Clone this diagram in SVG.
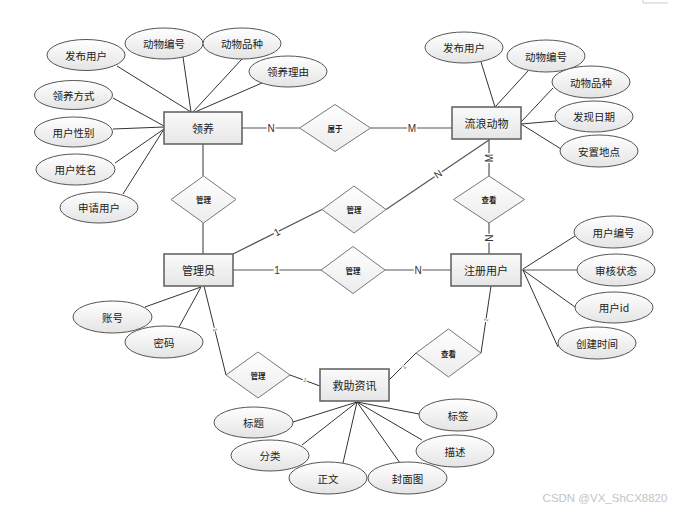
<svg xmlns="http://www.w3.org/2000/svg" width="678" height="512" viewBox="0 0 678 512">
<defs>
<linearGradient id="gE" x1="0" y1="0" x2="0" y2="1"><stop offset="0" stop-color="#ffffff"/><stop offset="1" stop-color="#e4e4e4"/></linearGradient>
<linearGradient id="gR" x1="0" y1="0" x2="0" y2="1"><stop offset="0" stop-color="#fafafa"/><stop offset="1" stop-color="#e6e6e6"/></linearGradient>
<linearGradient id="gD" x1="0" y1="0" x2="0" y2="1"><stop offset="0" stop-color="#ffffff"/><stop offset="1" stop-color="#ececec"/></linearGradient>
</defs>
<style>
text{font-family:"Noto Sans CJK SC","Liberation Sans",sans-serif;fill:#222;text-anchor:middle;dominant-baseline:central}
.e ellipse{fill:url(#gE);stroke:#555;stroke-width:1}
.r rect{fill:url(#gR);stroke:#666;stroke-width:1.6}
.d polygon{fill:url(#gD);stroke:#777;stroke-width:1}
.at{font-size:10.5px}
.en{font-size:11px}
.rl{font-size:7.5px;font-weight:bold}
#connectors line{stroke:#333;stroke-width:1}
#connectors .rel{stroke:#555;stroke-width:1.2}
.c{font-family:"Liberation Sans",sans-serif;font-size:10px;fill:#333;stroke:#fff;stroke-width:3px;paint-order:stroke}
.cs{font-family:"Liberation Sans",sans-serif;font-size:6px;fill:#777;stroke:#fff;stroke-width:2px;paint-order:stroke}
</style>
<rect width="678" height="512" fill="#fff"/>
<path d="M643 0V3H668" fill="none" stroke="#ccc" stroke-width="1"/>

<g id="connectors">
<!-- relationships -->
<line class="rel" x1="242" y1="128" x2="299.5" y2="128"/>
<line class="rel" x1="370.5" y1="128" x2="452" y2="128"/>
<line class="rel" x1="203" y1="144" x2="203" y2="176"/>
<line class="rel" x1="203" y1="223" x2="203" y2="254"/>
<line class="rel" x1="489" y1="139" x2="489" y2="176"/>
<line class="rel" x1="489" y1="223" x2="489" y2="254"/>
<line class="rel" x1="489" y1="140" x2="386" y2="209.5"/>
<line class="rel" x1="322" y1="209.5" x2="233" y2="254"/>
<line class="rel" x1="233" y1="270" x2="321" y2="270"/>
<line class="rel" x1="385" y1="270" x2="451" y2="270"/>
<line x1="204" y1="286" x2="226" y2="375"/>
<line x1="290" y1="375" x2="320" y2="386"/>
<line x1="491" y1="286" x2="481" y2="353"/>
<line x1="416" y1="353" x2="389" y2="380"/>
<!-- 领养 attributes -->
<line x1="117" y1="66" x2="191" y2="112"/>
<line x1="183" y1="57" x2="191" y2="112"/>
<line x1="242" y1="59" x2="193" y2="112"/>
<line x1="262" y1="83" x2="195" y2="112"/>
<line x1="113" y1="98" x2="164" y2="126"/>
<line x1="113" y1="129" x2="164" y2="127"/>
<line x1="115" y1="163" x2="164" y2="129"/>
<line x1="123" y1="194" x2="164" y2="129"/>
<!-- 流浪动物 attributes -->
<line x1="481" y1="62" x2="495" y2="107"/>
<line x1="528" y1="71" x2="495" y2="107"/>
<line x1="553" y1="88" x2="521" y2="122"/>
<line x1="556" y1="121" x2="521" y2="124"/>
<line x1="561" y1="149" x2="521" y2="124"/>
<!-- 注册用户 attributes -->
<line x1="575" y1="236" x2="523" y2="269"/>
<line class="rel" x1="577" y1="270" x2="521" y2="270"/>
<line x1="575" y1="307" x2="523" y2="270"/>
<line x1="558" y1="347" x2="523" y2="270"/>
<!-- 管理员 attributes -->
<line x1="145" y1="307" x2="201" y2="287"/>
<line x1="179" y1="327" x2="201" y2="287"/>
<!-- 救助资讯 attributes -->
<line x1="357" y1="402" x2="293" y2="422"/>
<line x1="357" y1="402" x2="302" y2="445"/>
<line x1="357" y1="402" x2="343" y2="463"/>
<line x1="357" y1="402" x2="400" y2="463"/>
<line x1="357" y1="402" x2="422" y2="440"/>
<line x1="357" y1="402" x2="419" y2="414"/>
<!-- cardinalities -->
<text class="c" x="271" y="128">N</text>
<text class="c" x="412" y="128">M</text>
<text class="c" x="489" y="158" transform="rotate(-90 489 158)">M</text>
<text class="c" x="489" y="238" transform="rotate(-90 489 238)">N</text>
<text class="c" x="438" y="174" transform="rotate(-34 438 174)">N</text>
<text class="c" x="277" y="232" transform="rotate(-27 277 232)">1</text>
<text class="c" x="277" y="270">1</text>
<text class="c" x="418" y="270">N</text>
<text class="cs" x="215" y="330" transform="rotate(76 215 330)">1</text>
<text class="cs" x="305" y="380" transform="rotate(20 305 380)">1</text>
<text class="cs" x="486" y="320" transform="rotate(-81 486 320)">1</text>
<text class="cs" x="404" y="367" transform="rotate(-45 404 367)">1</text>
</g>

<g id="attr-lingyang" class="e">
<g id="a1"><ellipse cx="86" cy="55" rx="39" ry="15.5"/><text class="at" x="86" y="55">发布用户</text></g>
<g id="a2"><ellipse cx="164" cy="43.5" rx="39" ry="15.5"/><text class="at" x="164" y="43.5">动物编号</text></g>
<g id="a3"><ellipse cx="242" cy="43.5" rx="39" ry="15.5"/><text class="at" x="242" y="43.5">动物品种</text></g>
<g id="a4"><ellipse cx="288" cy="71.5" rx="39" ry="15.5"/><text class="at" x="288" y="71.5">领养理由</text></g>
<g id="a5"><ellipse cx="73.5" cy="95" rx="39" ry="14.5"/><text class="at" x="73.5" y="95">领养方式</text></g>
<g id="a6"><ellipse cx="73.5" cy="132" rx="39" ry="15"/><text class="at" x="73.5" y="132">用户性别</text></g>
<g id="a7"><ellipse cx="75.5" cy="169.5" rx="39.5" ry="15.5"/><text class="at" x="75.5" y="169.5">用户姓名</text></g>
<g id="a8"><ellipse cx="99" cy="207.5" rx="39" ry="15.5"/><text class="at" x="99" y="207.5">申请用户</text></g>
</g>

<g id="attr-animal" class="e">
<g id="b1"><ellipse cx="464" cy="47.5" rx="39" ry="15.5"/><text class="at" x="464" y="47.5">发布用户</text></g>
<g id="b2"><ellipse cx="546" cy="56" rx="39" ry="16"/><text class="at" x="546" y="56">动物编号</text></g>
<g id="b3"><ellipse cx="591" cy="82" rx="39" ry="16"/><text class="at" x="591" y="82">动物品种</text></g>
<g id="b4"><ellipse cx="594" cy="116.5" rx="39" ry="15.5"/><text class="at" x="594" y="116.5">发现日期</text></g>
<g id="b5"><ellipse cx="599" cy="151" rx="39" ry="16"/><text class="at" x="599" y="151">安置地点</text></g>
</g>

<g id="attr-user" class="e">
<g id="c1"><ellipse cx="613.5" cy="232" rx="39.5" ry="16"/><text class="at" x="613.5" y="232">用户编号</text></g>
<g id="c2"><ellipse cx="616" cy="270" rx="39" ry="16"/><text class="at" x="616" y="270">审核状态</text></g>
<g id="c3"><ellipse cx="614" cy="307.5" rx="39" ry="15.5"/><text class="at" x="614" y="307.5">用户id</text></g>
<g id="c4"><ellipse cx="597" cy="343" rx="39" ry="16"/><text class="at" x="597" y="343">创建时间</text></g>
</g>

<g id="attr-admin" class="e">
<g id="d1"><ellipse cx="112.5" cy="317" rx="39.5" ry="16"/><text class="at" x="112.5" y="317">账号</text></g>
<g id="d2"><ellipse cx="164" cy="342" rx="39" ry="16"/><text class="at" x="164" y="342">密码</text></g>
</g>

<g id="attr-info" class="e">
<g id="f1"><ellipse cx="253.5" cy="422.5" rx="39.5" ry="15.5"/><text class="at" x="253.5" y="422.5">标题</text></g>
<g id="f2"><ellipse cx="270" cy="455.5" rx="39" ry="15.5"/><text class="at" x="270" y="455.5">分类</text></g>
<g id="f3"><ellipse cx="328" cy="478" rx="39" ry="16"/><text class="at" x="328" y="478">正文</text></g>
<g id="f4"><ellipse cx="407.5" cy="478" rx="39.5" ry="16"/><text class="at" x="407.5" y="478">封面图</text></g>
<g id="f5"><ellipse cx="455" cy="451" rx="39" ry="16"/><text class="at" x="455" y="451">描述</text></g>
<g id="f6"><ellipse cx="458" cy="415" rx="39" ry="16"/><text class="at" x="458" y="415">标签</text></g>
</g>

<g id="entity-lingyang" class="r"><rect x="164" y="112" width="78" height="32"/><text class="en" x="203" y="128">领养</text></g>
<g id="entity-animal" class="r"><rect x="452" y="107" width="69" height="32"/><text class="en" x="486.5" y="123">流浪动物</text></g>
<g id="entity-admin" class="r"><rect x="164" y="254" width="69" height="32"/><text class="en" x="198.5" y="270">管理员</text></g>
<g id="entity-user" class="r"><rect x="451" y="254" width="70" height="32"/><text class="en" x="486" y="270">注册用户</text></g>
<g id="entity-info" class="r"><rect x="320" y="369" width="69" height="32"/><text class="en" x="354.5" y="385">救助资讯</text></g>

<g id="rel-belong" class="d"><polygon points="335,104.5 370.5,128 335,151.5 299.5,128"/><text class="rl" x="335" y="128">属于</text></g>
<g id="rel-manage1" class="d"><polygon points="203.5,176 236,199.5 203.5,223 171,199.5"/><text class="rl" x="203.5" y="199.5">管理</text></g>
<g id="rel-manage2" class="d"><polygon points="354,186 386,209.5 354,233 322,209.5"/><text class="rl" x="354" y="209.5">管理</text></g>
<g id="rel-view1" class="d"><polygon points="489,176 524.5,199.5 489,223 453.5,199.5"/><text class="rl" x="489" y="199.5">查看</text></g>
<g id="rel-manage3" class="d"><polygon points="353,246.5 385,270 353,293.5 321,270"/><text class="rl" x="353" y="270">管理</text></g>
<g id="rel-manage4" class="d"><polygon points="258,352 290,375 258,398 226,375"/><text class="rl" x="258" y="375">管理</text></g>
<g id="rel-view2" class="d"><polygon points="448.5,329 481,353 448.5,377 416,353"/><text class="rl" x="448.5" y="353">查看</text></g>

<text x="605" y="498" style="font-family:'Liberation Sans',sans-serif;font-size:11.5px;fill:#c4c4c4">CSDN @VX_ShCX8820</text>
</svg>
